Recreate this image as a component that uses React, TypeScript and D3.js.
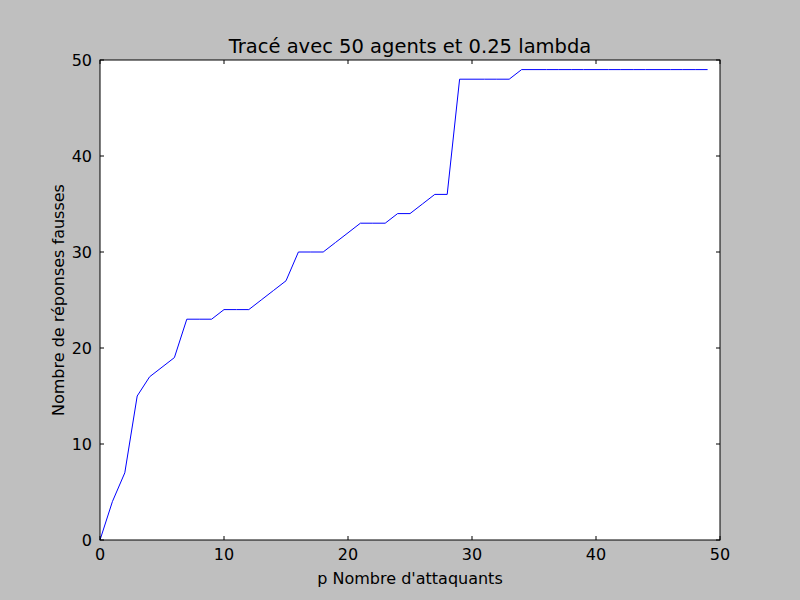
import React, { useEffect, useRef } from "react";
import * as d3 from "d3";

const xValues: number[] = d3.range(0, 50);
const yValues: number[] = [
  0, 4, 7, 15, 17, 18, 19, 23, 23, 23,
  24, 24, 24, 25, 26, 27, 30, 30, 30, 31,
  32, 33, 33, 33, 34, 34, 35, 36, 36, 48,
  48, 48, 48, 48, 49, 49, 49, 49, 49, 49,
  49, 49, 49, 49, 49, 49, 49, 49, 49, 49,
];
const xTicks = [0, 10, 20, 30, 40, 50];
const yTicks = [0, 10, 20, 30, 40, 50];

export default function App() {
  const svgRef = useRef<SVGSVGElement>(null);

  useEffect(() => {
    if (!svgRef.current) return;
    const svg = d3.select(svgRef.current);
    svg.selectAll("*").remove();

    const left = 100, right = 720, top = 60, bottom = 540;
    const x = d3.scaleLinear().domain([0, 50]).range([left, right]);
    const y = d3.scaleLinear().domain([0, 50]).range([bottom, top]);
    const font = "DejaVu Sans, sans-serif";

    svg.append("rect").attr("width", 800).attr("height", 600).attr("fill", "#bfbfbf");
    svg.append("rect").attr("x", left).attr("y", top)
      .attr("width", right - left).attr("height", bottom - top).attr("fill", "white");

    const line = d3.line<number>().x((_, i) => x(xValues[i])).y(d => y(d));
    svg.append("path").datum(yValues).attr("d", line)
      .attr("fill", "none").attr("stroke", "#0000ff").attr("stroke-width", 1);

    const g = svg.append("g").attr("stroke", "black").attr("stroke-width", 1);
    xTicks.forEach(t => {
      g.append("line").attr("x1", x(t)).attr("x2", x(t)).attr("y1", bottom).attr("y2", bottom - 4);
      g.append("line").attr("x1", x(t)).attr("x2", x(t)).attr("y1", top).attr("y2", top + 4);
      svg.append("text").attr("x", x(t)).attr("y", bottom + 20).attr("text-anchor", "middle")
        .attr("font-family", font).attr("font-size", 16).text(t);
    });
    yTicks.forEach(t => {
      g.append("line").attr("x1", left).attr("x2", left + 4).attr("y1", y(t)).attr("y2", y(t));
      g.append("line").attr("x1", right).attr("x2", right - 4).attr("y1", y(t)).attr("y2", y(t));
      svg.append("text").attr("x", left - 8).attr("y", y(t)).attr("dy", "0.35em").attr("text-anchor", "end")
        .attr("font-family", font).attr("font-size", 16).text(t);
    });
    svg.append("rect").attr("x", left).attr("y", top)
      .attr("width", right - left).attr("height", bottom - top)
      .attr("fill", "none").attr("stroke", "black");

    svg.append("text").attr("x", (left + right) / 2).attr("y", 53).attr("text-anchor", "middle")
      .attr("font-family", font).attr("font-size", 19.5).text("Tracé avec 50 agents et 0.25 lambda");
    svg.append("text").attr("x", (left + right) / 2).attr("y", 584).attr("text-anchor", "middle")
      .attr("font-family", font).attr("font-size", 16).text("p Nombre d'attaquants");
    svg.append("text").attr("transform", `translate(64,${(top + bottom) / 2}) rotate(-90)`)
      .attr("text-anchor", "middle")
      .attr("font-family", font).attr("font-size", 16).text("Nombre de réponses fausses");
  }, []);

  return (
    <svg ref={svgRef} width={800} height={600}
      style={{ display: "block", position: "absolute", left: 0, top: 0 }} />
  );
}
